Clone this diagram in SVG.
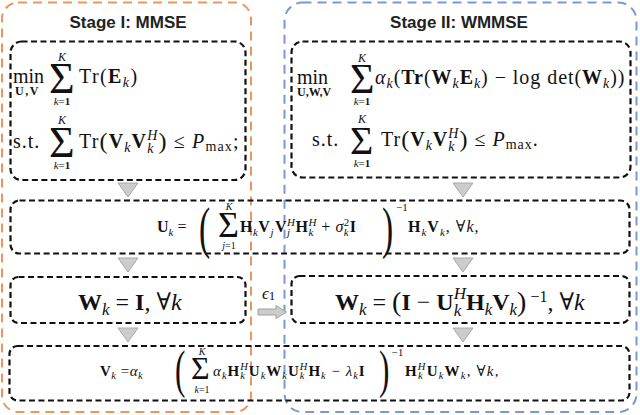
<svg xmlns="http://www.w3.org/2000/svg" width="640" height="415" viewBox="0 0 640 415">
<style>
.m{font-family:"Liberation Serif","DejaVu Serif",serif;fill:#111}
.b{font-weight:bold}
.i{font-style:italic}
.t{font-family:"Liberation Sans",Arial,sans-serif;font-weight:bold;font-size:17px;fill:#222;text-anchor:middle}
.box{fill:none;stroke:#111;stroke-width:2.2;stroke-dasharray:6 3.5}
.tri{fill:#cccccc;stroke:#a8a8a8;stroke-width:1}
.c{text-anchor:middle}
</style>
<rect width="640" height="415" fill="#fff"/>

<g id="stage1">
<rect x="2" y="2.5" width="249" height="409.5" rx="16" fill="none" stroke="#E8975F" stroke-width="2" stroke-dasharray="9 6"/>
<text class="t" x="128" y="28">Stage I: MMSE</text>
</g>
<g id="stage2">
<rect x="284.5" y="2.5" width="352" height="409.5" rx="18" fill="none" stroke="#7C98D0" stroke-width="2" stroke-dasharray="9 6"/>
<text class="t" x="459" y="28">Stage II: WMMSE</text>
</g>

<g id="mmse-problem">
<rect class="box" x="10.5" y="41.5" width="235" height="138.5" rx="11"/>
<text class="m" x="13" y="83" font-size="20">min</text>
<text class="m b" x="15" y="95" font-size="12" letter-spacing="1.5">U,V</text>
<text class="m" x="49" y="93" font-size="44">Σ</text>
<text class="m i c" x="62" y="61" font-size="12">K</text>
<text class="m c" x="62" y="105" font-size="11"><tspan class="i">k</tspan>=<tspan class="b">1</tspan></text>
<text class="m" x="79" y="83" font-size="20" letter-spacing="1.4">Tr(<tspan class="b">E</tspan><tspan class="i" font-size="14" dy="4">k</tspan><tspan dy="-4">)</tspan></text>
<text class="m" x="13" y="148" font-size="20" letter-spacing="1">s.t.</text>
<text class="m" x="49" y="157" font-size="44">Σ</text>
<text class="m i c" x="62" y="124" font-size="12">K</text>
<text class="m c" x="62" y="169" font-size="11"><tspan class="i">k</tspan>=<tspan class="b">1</tspan></text>
<text class="m" x="79" y="148" font-size="20" letter-spacing="1.15">Tr<tspan font-size="24" dy="1">(</tspan><tspan class="b" dy="-1">V</tspan><tspan class="i" font-size="14" dy="4">k</tspan><tspan class="b" dy="-4">V</tspan><tspan class="i" font-size="14" dy="5">k</tspan><tspan class="i" font-size="14" dx="-7.35" dy="-13">H</tspan><tspan font-size="24" dy="9">)</tspan><tspan dy="-1"> ≤ </tspan><tspan class="i">P</tspan><tspan font-size="14" dy="3">max</tspan><tspan dy="-3">;</tspan></text>
</g>

<g id="wmmse-problem">
<rect class="box" x="291.5" y="41.5" width="339" height="136" rx="11"/>
<text class="m" x="297" y="84" font-size="20">min</text>
<text class="m b" x="297" y="96" font-size="12">U,W,V</text>
<text class="m" x="350" y="93" font-size="42">Σ</text>
<text class="m i c" x="362" y="62" font-size="12">K</text>
<text class="m c" x="362" y="105" font-size="11"><tspan class="i">k</tspan>=<tspan class="b">1</tspan></text>
<text class="m" x="375" y="84" font-size="20" letter-spacing="0.95"><tspan class="i">α</tspan><tspan class="i" font-size="14" dy="4">k</tspan><tspan dy="-4">(</tspan><tspan class="b">Tr</tspan>(<tspan class="b">W</tspan><tspan class="i" font-size="14" dy="4">k</tspan><tspan class="b" dy="-4">E</tspan><tspan class="i" font-size="14" dy="4">k</tspan><tspan dy="-4">) − log det(</tspan><tspan class="b">W</tspan><tspan class="i" font-size="14" dy="4">k</tspan><tspan dy="-4">))</tspan></text>
<text class="m" x="312" y="146" font-size="20" letter-spacing="1">s.t.</text>
<text class="m" x="350" y="154" font-size="40">Σ</text>
<text class="m i c" x="362" y="123" font-size="12">K</text>
<text class="m c" x="362" y="167" font-size="11"><tspan class="i">k</tspan>=<tspan class="b">1</tspan></text>
<text class="m" x="381" y="146" font-size="20" letter-spacing="1">Tr<tspan font-size="24" dy="1">(</tspan><tspan class="b" dy="-1">V</tspan><tspan class="i" font-size="14" dy="4">k</tspan><tspan class="b" dy="-4">V</tspan><tspan class="i" font-size="14" dy="5">k</tspan><tspan class="i" font-size="14" dx="-7.2" dy="-13">H</tspan><tspan font-size="24" dy="9">)</tspan><tspan dy="-1"> ≤ </tspan><tspan class="i">P</tspan><tspan font-size="14" dy="3">max</tspan><tspan dy="-3">.</tspan></text>
</g>

<g id="update-U">
<rect class="box" x="10.5" y="200.5" width="619" height="53" rx="9"/>
<text class="m" x="157" y="232" font-size="16"><tspan class="b">U</tspan><tspan class="i" font-size="11" dy="3.5">k</tspan><tspan dy="-3.5"> =</tspan></text>
<text class="m" font-size="56" transform="translate(199,247) scale(0.6,1)">(</text>
<text class="m" x="218" y="237" font-size="36">Σ</text>
<text class="m i c" x="229" y="210" font-size="10">K</text>
<text class="m c" x="229" y="249" font-size="10"><tspan class="i">j</tspan>=1</text>
<text class="m" x="240" y="232" font-size="16" letter-spacing="0.5"><tspan class="b">H</tspan><tspan class="i" font-size="11" dy="3.5">k</tspan><tspan class="b" dy="-3.5">V</tspan><tspan class="i" font-size="11" dy="3.5">j</tspan><tspan class="b" dy="-3.5" dx="1">V</tspan><tspan class="i" font-size="11" dy="4">j</tspan><tspan class="i" font-size="11" dx="-3.6" dy="-10">H</tspan><tspan class="b" dy="6">H</tspan><tspan class="i" font-size="11" dy="4">k</tspan><tspan class="i" font-size="11" dx="-5.4" dy="-10">H</tspan><tspan dy="6"> + </tspan><tspan class="i">σ</tspan><tspan class="i" font-size="11" dy="4">k</tspan><tspan font-size="11" dx="-5.4" dy="-10">2</tspan><tspan class="b" dy="6">I</tspan></text>
<text class="m" font-size="56" transform="translate(382,247) scale(0.6,1)">)</text>
<text class="m" x="396" y="211" font-size="11">−1</text>
<text class="m" x="408" y="232" font-size="16" letter-spacing="1"><tspan class="b">H</tspan><tspan class="i" font-size="11" dy="3.5">k</tspan><tspan class="b" dy="-3.5">V</tspan><tspan class="i" font-size="11" dy="3.5">k</tspan><tspan dy="-3.5">, ∀</tspan><tspan class="i">k</tspan>,</text>
</g>

<g id="init-W">
<rect class="box" x="10.5" y="277" width="235" height="46" rx="8"/>
<text class="m" x="78" y="310" font-size="24"><tspan class="b">W</tspan><tspan class="i" font-size="17" dy="5">k</tspan><tspan dy="-5"> = </tspan><tspan class="b">I</tspan>, ∀<tspan class="i">k</tspan></text>
</g>

<g id="update-W">
<rect class="box" x="291.5" y="276" width="338" height="47" rx="8"/>
<text class="m" x="335" y="310" font-size="24"><tspan class="b">W</tspan><tspan class="i" font-size="17" dy="5">k</tspan><tspan dy="-5"> = </tspan><tspan font-size="28" dy="1">(</tspan><tspan class="b" dy="-1">I</tspan> − <tspan class="b">U</tspan><tspan class="i" font-size="17" dy="6">k</tspan><tspan class="i" font-size="17" dx="-7.5" dy="-17">H</tspan><tspan class="b" dy="11">H</tspan><tspan class="i" font-size="17" dy="5">k</tspan><tspan class="b" dy="-5">V</tspan><tspan class="i" font-size="17" dy="5">k</tspan><tspan font-size="28" dy="-4">)</tspan><tspan font-size="16" dy="-9"> −1</tspan><tspan dy="8">, ∀</tspan><tspan class="i">k</tspan></text>
</g>

<g id="update-V">
<rect class="box" x="9.5" y="346" width="620" height="54.5" rx="8"/>
<text class="m" x="100" y="376" font-size="15" letter-spacing="0.5"><tspan class="b">V</tspan><tspan class="i" font-size="10.5" dy="3">k</tspan><tspan dy="-3"> =</tspan><tspan class="i">α</tspan><tspan class="i" font-size="10.5" dy="3">k</tspan></text>
<text class="m" font-size="52" transform="translate(175,387) scale(0.6,1)">(</text>
<text class="m" x="191" y="379" font-size="32">Σ</text>
<text class="m i c" x="202" y="355" font-size="10">K</text>
<text class="m c" x="202" y="393" font-size="10"><tspan class="i">k</tspan>=1</text>
<text class="m" x="213" y="376" font-size="15" letter-spacing="1"><tspan class="i">α</tspan><tspan class="i" font-size="10.5" dy="3">k</tspan><tspan class="b" dy="-3">H</tspan><tspan class="i" font-size="10.5" dy="3">k</tspan><tspan class="i" font-size="10.5" dx="-5.7" dy="-9">H</tspan><tspan class="b" dy="6">U</tspan><tspan class="i" font-size="10.5" dy="3">k</tspan><tspan class="b" dy="-3">W</tspan><tspan class="i" font-size="10.5" dy="3">k</tspan><tspan class="b" dy="-3">U</tspan><tspan class="i" font-size="10.5" dy="3">k</tspan><tspan class="i" font-size="10.5" dx="-5.7" dy="-9">H</tspan><tspan class="b" dy="6">H</tspan><tspan class="i" font-size="10.5" dy="3">k</tspan><tspan dy="-3"> − </tspan><tspan class="i">λ</tspan><tspan class="i" font-size="10.5" dy="3">k</tspan><tspan class="b" dy="-3">I</tspan></text>
<text class="m" font-size="52" transform="translate(379,387) scale(0.6,1)">)</text>
<text class="m" x="392" y="356" font-size="10.5">−1</text>
<text class="m" x="405" y="376" font-size="15" letter-spacing="1.2"><tspan class="b">H</tspan><tspan class="i" font-size="10.5" dy="3">k</tspan><tspan class="i" font-size="10.5" dx="-5.9" dy="-9">H</tspan><tspan class="b" dy="6">U</tspan><tspan class="i" font-size="10.5" dy="3">k</tspan><tspan class="b" dy="-3">W</tspan><tspan class="i" font-size="10.5" dy="3">k</tspan><tspan dy="-3">, ∀</tspan><tspan class="i">k</tspan>,</text>
</g>

<g id="connectors">
<polygon class="tri" points="118,183 138,183 128,197"/>
<polygon class="tri" points="453,183 473,183 463,197"/>
<polygon class="tri" points="118,258 138,258 128,272"/>
<polygon class="tri" points="453,258 473,258 463,272"/>
<polygon class="tri" points="118,328 138,328 128,342"/>
<polygon class="tri" points="453,328 473,328 463,342"/>
<polygon points="258,309 276,309 276,305.5 286.5,312 276,318.5 276,315 258,315" fill="#cccccc" stroke="#a0a0a0" stroke-width="1"/>
<text class="m" x="262" y="299" font-size="17"><tspan class="i">ϵ</tspan><tspan font-size="13" dy="1">1</tspan></text>
</g>
</svg>
